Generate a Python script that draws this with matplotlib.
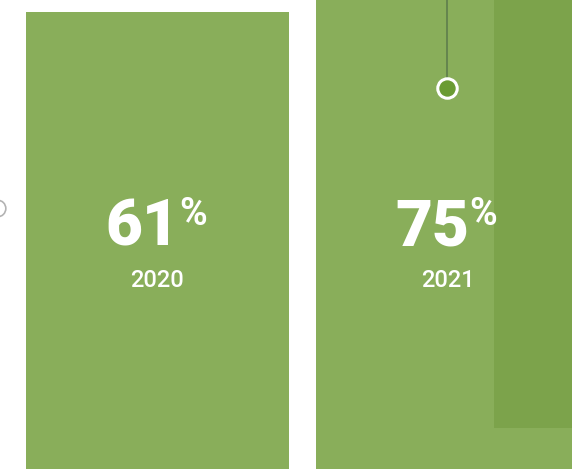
import numpy as np
import matplotlib
matplotlib.use("Agg")
import matplotlib.pyplot as plt

years = ["2020", "2021"]
shares = [61, 75]

bar_color = "#89ae5a"
shade_color = "#7ca34b"
dot_color = "#6a9b33"

px_per_unit = 7.49
fig = plt.figure(figsize=(5.72, 4.69), dpi=100)
ax = fig.add_axes([0, 0, 1, 1])
ax.set_xlim(-0.543, -0.543 + 572 / 290)
ax.set_ylim(0, 469 / px_per_unit)
ax.axis("off")

x = np.arange(len(years))
ax.bar(x, shares, width=0.907, color=bar_color, zorder=1)

# darker panel behind the right edge
ax.bar(1.160 + 0.5, 100, width=1.0, bottom=41 / px_per_unit,
       color=shade_color, zorder=2)

for i, (yr, val) in enumerate(zip(years, shares)):
    ax.annotate(str(val), (x[i], (469 - 245) / px_per_unit), xytext=(16, 0),
                textcoords="offset points", ha="right", va="baseline",
                color="white", fontsize=46, fontweight="black",
                family="Roboto", zorder=5)
    ax.annotate("%", (x[i], (469 - 225) / px_per_unit), xytext=(16, 0),
                textcoords="offset points", ha="left", va="baseline",
                color="white", fontsize=27, fontweight="bold",
                family="Roboto", zorder=5)
    ax.text(x[i], (469 - 287) / px_per_unit, yr, ha="center", va="baseline",
            color="white", fontsize=17, fontweight="medium",
            family="Roboto", zorder=5)

# connector line and dot on 2021
ax.plot([1, 1], [(469 - 79) / px_per_unit, 469 / px_per_unit], color="#5e7d4c",
        lw=1.2, zorder=3)
ax.plot(1, (469 - 88) / px_per_unit, "o", ms=14, mfc=dot_color, mec="white",
        mew=2.2, zorder=4)

# partial dot at the left edge
ax.plot(-0.553, (469 - 208) / px_per_unit, "o", ms=12, mfc="white", mec="#b3b3b3",
        mew=1.2, clip_on=False, zorder=4)

fig.savefig("out.png", dpi=100, facecolor="white")
